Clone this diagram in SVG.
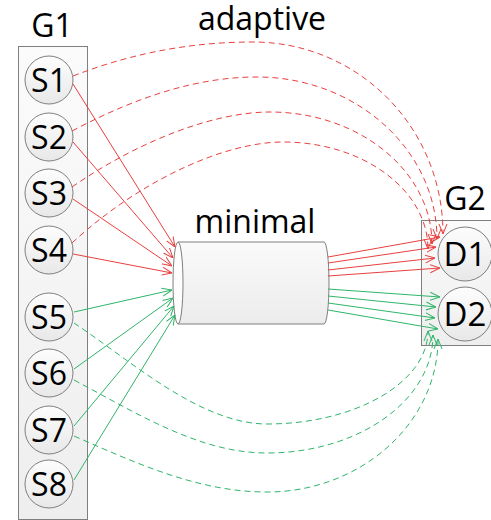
<svg xmlns="http://www.w3.org/2000/svg" width="491" height="520" viewBox="0 0 491 520">
<defs>
<linearGradient id="gBox" x1="0" y1="0" x2="0" y2="1"><stop offset="0" stop-color="#fbfbfb"/><stop offset="1" stop-color="#eeeeee"/></linearGradient>
<linearGradient id="gCirc" x1="0" y1="0" x2="0" y2="1"><stop offset="0" stop-color="#fdfdfd"/><stop offset="1" stop-color="#e8e8e8"/></linearGradient>
<linearGradient id="gCyl" x1="0" y1="0" x2="0" y2="1"><stop offset="0" stop-color="#fafafa"/><stop offset="1" stop-color="#ececec"/></linearGradient>
<marker id="arR" viewBox="0 0 10 10" refX="10" refY="5" markerWidth="10" markerHeight="10" markerUnits="userSpaceOnUse" orient="auto"><path d="M0,1 L10,5 L0,9" fill="none" stroke="#e8403f" stroke-width="1"/></marker>
<marker id="arG" viewBox="0 0 10 10" refX="10" refY="5" markerWidth="10" markerHeight="10" markerUnits="userSpaceOnUse" orient="auto"><path d="M0,1 L10,5 L0,9" fill="none" stroke="#2fb56a" stroke-width="1"/></marker>
</defs>
<style>
.box{fill:url(#gBox);stroke:#7f7f7f;stroke-width:1}
.node{fill:url(#gCirc);stroke:#7f7f7f;stroke-width:1}
.lbl{font-family:"Open Sans","Noto Sans",sans-serif;font-size:32px;fill:#000;text-anchor:middle}
.dl{font-family:"Open Sans","Noto Sans",sans-serif;font-size:33px;fill:#000;text-anchor:middle}
.big{font-family:"Open Sans","Noto Sans",sans-serif;font-size:32px;fill:#000;text-anchor:middle}
.r{fill:none;stroke:#e8403f;stroke-width:1;marker-end:url(#arR)}
.g{fill:none;stroke:#2fb56a;stroke-width:1;marker-end:url(#arG)}
.d{stroke-dasharray:6 4}
</style>
<rect width="491" height="520" fill="#ffffff"/>
<g id="G1">
<rect class="box" x="18.5" y="46.5" width="69" height="473"/>
<text class="big" x="52" y="37">G1</text>
</g>
<g id="G2">
<rect class="box" x="421.5" y="220.5" width="80" height="125"/>
<text class="big" x="465" y="210">G2</text>
</g>
<g id="S1"><circle class="node" cx="49" cy="80" r="24"/><text class="lbl" x="49" y="92">S1</text></g>
<g id="S2"><circle class="node" cx="49" cy="137" r="24"/><text class="lbl" x="49" y="149">S2</text></g>
<g id="S3"><circle class="node" cx="49" cy="193" r="24"/><text class="lbl" x="49" y="205">S3</text></g>
<g id="S4"><circle class="node" cx="49" cy="250" r="24"/><text class="lbl" x="49" y="262">S4</text></g>
<g id="S5"><circle class="node" cx="49" cy="317" r="24"/><text class="lbl" x="49" y="329">S5</text></g>
<g id="S6"><circle class="node" cx="49" cy="373" r="24"/><text class="lbl" x="49" y="385">S6</text></g>
<g id="S7"><circle class="node" cx="49" cy="430" r="24"/><text class="lbl" x="49" y="442">S7</text></g>
<g id="S8"><circle class="node" cx="49" cy="484" r="24"/><text class="lbl" x="49" y="496">S8</text></g>
<g id="D1"><circle class="node" cx="465" cy="254" r="27"/><text class="dl" x="465" y="266">D1</text></g>
<g id="D2"><circle class="node" cx="465" cy="314" r="27"/><text class="dl" x="465" y="326">D2</text></g>
<g id="minimal">
<path d="M178,242 L324,242 A5,41 0 0 1 324,324 L178,324 Z" fill="url(#gCyl)" stroke="#7f7f7f" stroke-width="1"/>
<ellipse cx="178" cy="283" rx="5" ry="41" fill="#fdfdfd" stroke="#7f7f7f" stroke-width="1"/>
<text class="big" x="255" y="233">minimal</text>
</g>
<text class="big" x="262" y="30">adaptive</text>
<g id="connectors">
<path class="r" d="M73,84 L175,247"/>
<path class="r" d="M73,142 L173,258"/>
<path class="r" d="M73,199 L172,266"/>
<path class="r" d="M73,254 L172,273"/>
<path class="g" d="M74,312 L172,290"/>
<path class="g" d="M74,369 L173,298"/>
<path class="g" d="M74,426 L174,306"/>
<path class="g" d="M74,480 L175,315"/>
<path class="r" d="M328,257 L440,237"/>
<path class="r" d="M328,263 L436,247"/>
<path class="r" d="M328,270 L435,258"/>
<path class="r" d="M328,276 L440,268"/>
<path class="g" d="M328,289 L440,297"/>
<path class="g" d="M328,296 L436,307"/>
<path class="g" d="M328,303 L435,318"/>
<path class="g" d="M328,310 L438,329"/>
<path class="r d" d="M73,76 C140,50 200,42 253,42 C358,42 443,127 443,234"/>
<path class="r d" d="M72,131 C140,95 200,77 257,77 C356,77 437,150 437,239"/>
<path class="r d" d="M72,187 C140,140 215,112 270,112 C359,112 432,171 432,244"/>
<path class="r d" d="M72,243 C140,180 225,142 283,142 C363,142 428,190 428,249"/>
<path class="g d" d="M74,323 C130,360 200,424 267,424 C356,424 428,382 428,331"/>
<path class="g d" d="M74,380 C140,415 200,453 267,453 C359,453 433,400 433,335"/>
<path class="g d" d="M74,436 C140,465 200,492 267,492 C361,492 438,423 438,339"/>
</g>
</svg>
